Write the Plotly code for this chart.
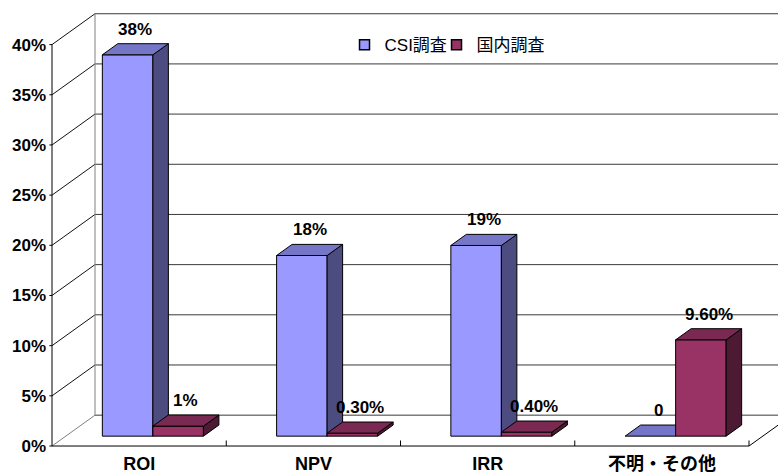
import plotly.graph_objects as go

# ---------------- data ----------------
categories = ["ROI", "NPV", "IRR", "不明・その他"]
series_names = ["CSI調査", "国内調査"]
csi_values = [38, 18, 19, 0]
domestic_values = [1, 0.3, 0.4, 9.6]
csi_labels = ["38%", "18%", "19%", "0"]
domestic_labels = ["1%", "0.30%", "0.40%", "9.60%"]
y_ticks = [0, 5, 10, 15, 20, 25, 30, 35, 40]
y_tick_labels = ["0%", "5%", "10%", "15%", "20%", "25%", "30%", "35%", "40%"]

# ---------------- style / geometry ----------------
W, H = 778, 474
PX_PER_CAT = 174.25
PX_PER_PCT = 10.08
ORIGIN_X_PX = 52      # front axis x pixel
ORIGIN_Y_PX = 448     # front floor y pixel
ML = 47
MB = H - 453
DEPTH_X = 43 / PX_PER_CAT
DEPTH_Y = 31 / PX_PER_PCT
D0, D1 = 0.32, 0.68   # bar depth span (fraction of floor depth)
BAR_W = 0.29
FONT = "Liberation Sans, Arial, Noto Sans CJK JP, sans-serif"

colors = {
    0: dict(front="#9999FF", top="#7676C8", side="#4C4C80"),
    1: dict(front="#993366", top="#7A2952", side="#4D1A33"),
}

x_min = -(ORIGIN_X_PX - ML) / PX_PER_CAT
x_max = (W - ORIGIN_X_PX) / PX_PER_CAT
y_min = -(453 - ORIGIN_Y_PX) / PX_PER_PCT
y_max = ORIGIN_Y_PX / PX_PER_PCT
n = len(categories)
y_top = y_ticks[-1]

fig = go.Figure()

def add_line(xs, ys, color, width=1):
    fig.add_trace(go.Scatter(x=xs, y=ys, mode="lines", line=dict(color=color, width=width),
                             hoverinfo="skip", showlegend=False))

# walls: back wall gridlines & side wall diagonals
bx, by = [], []
sx, sy = [], []
for v in y_ticks:
    bx += [DEPTH_X, n + DEPTH_X, None]
    by += [v + DEPTH_Y, v + DEPTH_Y, None]
    if v > 0:
        sx += [0, DEPTH_X, None]
        sy += [v, v + DEPTH_Y, None]
add_line(bx, by, "#3a3a3a")
add_line(sx, sy, "#111111")
# floor left edge and back-left corner (gray)
add_line([0, DEPTH_X, None, DEPTH_X, DEPTH_X], [0, DEPTH_Y, None, DEPTH_Y, y_top + DEPTH_Y], "#808080")
# floor front and right edges, category tick marks
fx = [0, n, n + DEPTH_X, None]
fy = [0, 0, DEPTH_Y, None]
for k in range(1, n + 1):
    fx += [k, k, None]
    fy += [0, 0.55, None]
add_line(fx, fy, "#000000")
# front value axis with small ticks
ax_x = [0, 0, None]
ax_y = [0, y_top, None]
for v in y_ticks:
    ax_x += [-0.015, 0, None]
    ax_y += [v, v, None]
add_line(ax_x, ax_y, "#000000")

def poly(xs, ys, fill):
    fig.add_trace(go.Scatter(x=xs + [xs[0]], y=ys + [ys[0]], mode="lines", fill="toself",
                             fillcolor=fill, line=dict(color="#000000", width=1),
                             hoverinfo="skip", showlegend=False))

ox0, oy0 = D0 * DEPTH_X, D0 * DEPTH_Y
ox1, oy1 = D1 * DEPTH_X, D1 * DEPTH_Y
annotations = []
for i, cat in enumerate(categories):
    c = i + 0.5
    for s, (vals, labs) in enumerate([(csi_values, csi_labels), (domestic_values, domestic_labels)]):
        v = vals[i]
        xl = c - BAR_W + s * BAR_W
        xr = xl + BAR_W
        col = colors[s]
        if v > 0:
            poly([xl + ox0, xr + ox0, xr + ox0, xl + ox0], [oy0, oy0, v + oy0, v + oy0], col["front"])
            poly([xr + ox0, xr + ox1, xr + ox1, xr + ox0], [oy0, oy1, v + oy1, v + oy0], col["side"])
        poly([xl + ox0, xr + ox0, xr + ox1, xl + ox1], [v + oy0, v + oy0, v + oy1, v + oy1],
             col["top"] if v > 0 else "#7474C8")
        annotations.append(dict(x=(xl + xr) / 2 + (ox0 + ox1) / 2, y=v + oy1, text=labs[i],
                                showarrow=False, xanchor="center", yanchor="bottom", yshift=3,
                                font=dict(family=FONT, size=17, color="#000000", weight="bold")))

# legend keys (one legend box per series so that spacing can match the reference)
legend_ids = ["legend", "legend2"]
for s, name in enumerate(series_names):
    fig.add_trace(go.Scatter(x=[None], y=[None], mode="markers", name=name, legend=legend_ids[s],
                             marker=dict(symbol="square", size=10, color=colors[s]["front"],
                                         line=dict(color="#000000", width=1.5))))

legend_style = dict(orientation="h", y=0.90, xanchor="left", yanchor="middle",
                    font=dict(family=FONT, size=17, color="#000000"), itemwidth=30,
                    bgcolor="rgba(0,0,0,0)")

fig.update_layout(
    width=W, height=H,
    margin=dict(l=ML, r=0, t=0, b=MB, pad=0),
    paper_bgcolor="white", plot_bgcolor="white",
    font=dict(family=FONT, color="#000000"),
    annotations=annotations,
    showlegend=True,
    legend=dict(x=0.407, **legend_style),
    legend2=dict(x=0.407 + 92 / 731, **legend_style),
    xaxis=dict(range=[x_min, x_max], showgrid=False, zeroline=False, showline=False,
               tickvals=[i + 0.5 for i in range(n)], ticktext=categories, ticks="",
               tickfont=dict(family=FONT, size=18, color="#000000", weight="bold"),
               fixedrange=True),
    yaxis=dict(range=[y_min, y_max], showgrid=False, zeroline=False, showline=False,
               tickvals=y_ticks, ticktext=y_tick_labels, ticks="",
               tickfont=dict(family=FONT, size=17, color="#000000", weight="bold"),
               fixedrange=True),
)

fig.write_html("out.html", config={"displayModeBar": False},
               post_script="document.body.style.margin='0px';document.body.style.overflow='hidden';")
